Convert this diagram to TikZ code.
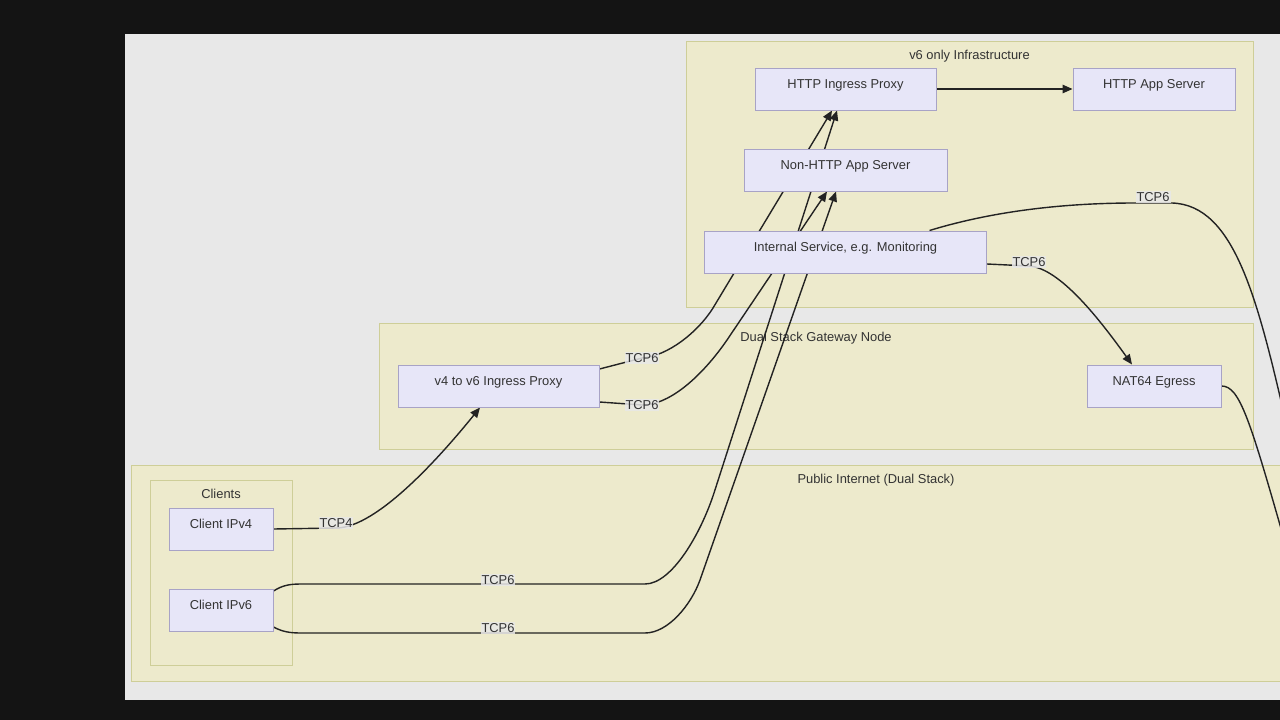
\documentclass[tikz,border=0pt]{standalone}
\usepackage{fontspec}
\setmainfont{Liberation Sans}
\usetikzlibrary{positioning,arrows.meta}
\definecolor{frame}{RGB}{20,20,20}
\definecolor{canvas}{RGB}{232,232,232}
\definecolor{clusterfill}{RGB}{237,234,204}
\definecolor{clusterline}{RGB}{206,206,152}
\definecolor{boxfill}{RGB}{231,230,248}
\definecolor{boxline}{RGB}{168,163,198}
\definecolor{ink}{RGB}{51,51,51}
\definecolor{wirecol}{RGB}{35,35,35}
\definecolor{tagfill}{RGB}{232,232,232}
\pgfdeclarelayer{bg}
\pgfdeclarelayer{wires}
\pgfsetlayers{bg,wires,main}

\begin{document}
\begin{tikzpicture}[x=1pt,y=-1pt,on grid,
    font=\fontsize{12.9pt}{15pt}\selectfont,text=ink,
    box/.style={draw=boxline,fill=boxfill,line width=1pt,inner sep=0pt,
                text height=20.2pt,text depth=21.8pt},
    cluster/.style={draw=clusterline,fill=clusterfill,line width=1pt,inner sep=0pt},
    ctitle/.style={anchor=base,yshift=-18.8pt},
    wire/.style={draw=wirecol,line width=1.4pt,-{Triangle[length=10pt,width=8.5pt]}},
    tag/.style={fill=tagfill,fill opacity=0.85,text opacity=1,inner sep=1pt}]
    \useasboundingbox (0,0) rectangle (1280,720);

    % groups
    \begin{pgfonlayer}{bg}
        \fill[frame] (0,0) rectangle (1280,720);
        \fill[canvas] (125,34) rectangle (1300,700);
        \node[cluster,minimum width=567pt,minimum height=266pt] (v6only) at (969.5,174) {};
        \node[ctitle] at (v6only.north) {v6 only Infrastructure};
        \node[cluster,minimum width=874pt,minimum height=126pt] (gateway) at (816,386) {};
        \node[ctitle] at (gateway.north) {Dual Stack Gateway Node};
        \node[cluster,minimum width=1490pt,minimum height=216pt] (public) at (876,573) {};
        \node[ctitle] at (public.north) {Public Internet (Dual Stack)};
        \node[cluster,minimum width=142pt,minimum height=185pt] (clients) at (221,572.5) {};
        \node[ctitle] at (clients.north) {Clients};
    \end{pgfonlayer}

    \node[box,minimum width=181pt] (http)     at (845.5,89)          {HTTP Ingress Proxy};
    \node[box,minimum width=162pt] (httpapp)  [right=308.5pt of http] {HTTP App Server};
    \node[box,minimum width=203pt] (nonhttp)  [below=81pt of http]    {Non-HTTP App Server};
    \node[box,minimum width=282pt] (internal) [below=82pt of nonhttp] {Internal Service, e.g. Monitoring};
    \node[box,minimum width=134pt] (nat64)    [below=297pt of httpapp] {NAT64 Egress};
    \node[box,minimum width=201pt] (v4v6)     at (498.5,386)         {v4 to v6 Ingress Proxy};
    \node[box,minimum width=104pt] (cv4)      at (221,529)           {Client IPv4};
    \node[box,minimum width=104pt] (cv6)      [below=81pt of cv4]     {Client IPv6};

    \coordinate (offA) at (1290,440);
    \coordinate (offB) at (1290,560);

    % connections
    \begin{pgfonlayer}{wires}
        \draw[wire] (http) -- (httpapp);
        \draw[wire] ([yshift=17pt]v4v6.east) -- (642,358) node[tag] (t1) {TCP6}
            .. controls (668,356) and (698,332) .. (713,308) -- ([xshift=-13.5pt]http.south);
        \draw[wire] ([yshift=-16pt]v4v6.east) -- (642,405) node[tag] (t2) {TCP6}
            .. controls (672,405) and (705,372) .. (727,340) -- ([xshift=-18.5pt]nonhttp.south);
        \draw[wire] (cv4.east) -- (336,528) node[tag,yshift=5pt] (t3) {TCP4}
            .. controls (378,528) and (444,452) .. ([xshift=-18.5pt]v4v6.south);
        \draw[wire] ([yshift=19pt]cv6.east) .. controls (283,585) and (290,584) .. (302,584)
            -- (498,584) node[tag,yshift=4pt] (t4) {TCP6} -- (645,584)
            .. controls (672,584) and (701,533) .. (714,493) -- ([xshift=-8.5pt]http.south);
        \draw[wire] ([yshift=-17pt]cv6.east) .. controls (283,632) and (290,633) .. (302,633)
            -- (498,633) node[tag,yshift=5pt] (t5) {TCP6} -- (645,633)
            .. controls (668,633) and (691,605) .. (700,580) -- ([xshift=-9.5pt]nonhttp.south);
        \draw[wire] ([yshift=-12pt]internal.east) -- (1029,266) node[tag,yshift=4pt] (t7) {TCP6}
            .. controls (1060,268) and (1100,320) .. ([xshift=-22pt]nat64.north);
        \draw[wire] ([xshift=84pt]internal.north) .. controls (990,212) and (1060,203) .. (1135,203)
            -- (1153,203) node[tag,yshift=6pt] (t8) {TCP6} -- (1172,203)
            .. controls (1235,205) and (1258,300) .. (offA);
        \draw[wire] (nat64.east) .. controls (1240,386) and (1250,420) .. (offB);
    \end{pgfonlayer}
\end{tikzpicture}
\end{document}
